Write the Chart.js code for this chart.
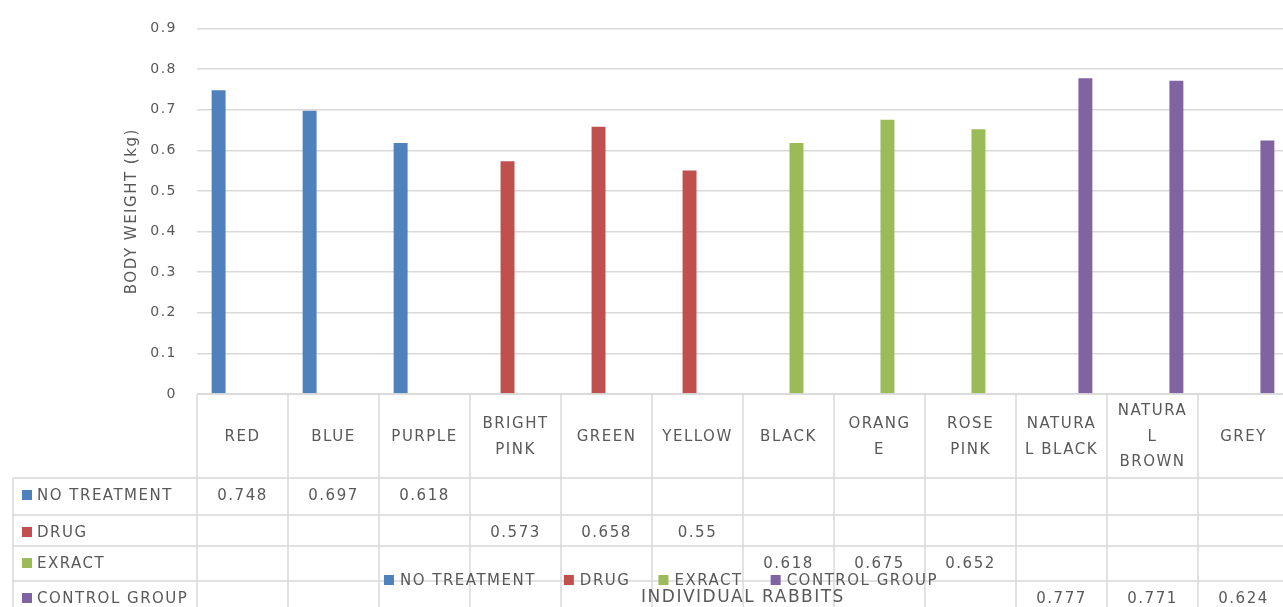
<!DOCTYPE html>
<html>
<head>
<meta charset="utf-8">
<script src="https://cdn.jsdelivr.net/npm/chart.js@4/dist/chart.umd.min.js"></script>
<style>
  body { margin: 0; background: #fff; }
  #wrap { width: 1283px; height: 607px; overflow: hidden; }
</style>
</head>
<body>
<div id="wrap"><canvas id="rabbits" width="1292" height="607"></canvas></div>
<script>
// rabbits, as the category cells wrap them
const rabbitLines = [
  ['RED'], ['BLUE'], ['PURPLE'], ['BRIGHT', 'PINK'], ['GREEN'], ['YELLOW'],
  ['BLACK'], ['ORANG', 'E'], ['ROSE', 'PINK'], ['NATURA', 'L BLACK'],
  ['NATURA', 'L', 'BROWN'], ['GREY'],
];
const groupNames = ['NO TREATMENT', 'DRUG', 'EXRACT', 'CONTROL GROUP'];
const groupColors = ['#4f81bd', '#c0504d', '#9bbb59', '#8064a2'];

const noTreatment = [0.748, 0.697, 0.618, null, null, null, null, null, null, null, null, null];
const drug = [null, null, null, 0.573, 0.658, 0.55, null, null, null, null, null, null];
const exract = [null, null, null, null, null, null, 0.618, 0.675, 0.652, null, null, null];
const controlGroup = [null, null, null, null, null, null, null, null, null, 0.777, 0.771, 0.624];

const yMin = 0;
const yMax = 0.9;
const yStep = 0.1;

const textGray = '#595959';
const lineGray = '#d9d9d9';
Chart.defaults.font.family = '"DejaVu Sans", sans-serif';
Chart.defaults.color = textGray;

// data table under the plot, drawn from the x scale's categories
const dataTable = {
  id: 'dataTable',
  beforeDraw(chart) {
    chart.ctx.letterSpacing = '1.5px';
  },
  afterDraw(chart) {
    const { ctx, chartArea: area } = chart;
    const n = chart.data.labels.length;
    const w = (area.right - area.left) / n;
    const bottom = chart.height;
    const rowTops = [478, 515, 546, 581];
    const rowH = 34;
    const tableLeft = 13;

    ctx.save();
    ctx.letterSpacing = '1.5px';
    ctx.strokeStyle = lineGray;
    ctx.lineWidth = 1.5;
    ctx.beginPath();
    ctx.moveTo(area.left, area.bottom);
    ctx.lineTo(area.right, area.bottom);
    for (let i = 0; i <= n; i++) {
      let x = area.left + i * w;
      ctx.moveTo(x, area.bottom);
      ctx.lineTo(x, bottom);
    }
    ctx.moveTo(tableLeft, rowTops[0]);
    ctx.lineTo(tableLeft, bottom);
    rowTops.forEach((y) => {
      ctx.moveTo(tableLeft, y);
      ctx.lineTo(area.right, y);
    });
    ctx.stroke();

    ctx.fillStyle = textGray;
    ctx.textAlign = 'center';
    ctx.textBaseline = 'middle';
    ctx.font = '15px "DejaVu Sans"';

    // category cells
    chart.data.labels.forEach((lines, i) => {
      let cx = chart.scales.x.getPixelForValue(i);
      let lh = 25.5;
      let y0 = 437 - ((lines.length - 1) * lh) / 2;
      lines.forEach((t, k) => ctx.fillText(t, cx, y0 + k * lh));
    });

    // series rows
    chart.data.datasets.forEach((ds, r) => {
      let cy = rowTops[r] + rowH / 2;
      ctx.fillStyle = ds.backgroundColor;
      ctx.fillRect(22, cy - 5, 10, 10);
      ctx.fillStyle = textGray;
      ctx.textAlign = 'left';
      ctx.fillText(ds.label, 37, cy + 1);
      ctx.textAlign = 'center';
      ds.data.forEach((v, i) => {
        if (v == null) return;
        ctx.fillText(String(v), chart.scales.x.getPixelForValue(i), cy + 1);
      });
    });

    // legend (sits over the table, like the source)
    let items = chart.data.datasets.map((ds) => ({
      label: ds.label,
      color: ds.backgroundColor,
      width: 16 + ctx.measureText(ds.label).width,
    }));
    let gap = 28;
    let total = items.reduce((s, it) => s + it.width, 0) + gap * (items.length - 1);
    let lx = 661 - total / 2;
    let ly = 580;
    ctx.textAlign = 'left';
    items.forEach((it) => {
      ctx.fillStyle = it.color;
      ctx.fillRect(lx, ly - 5, 10, 10);
      ctx.fillStyle = textGray;
      ctx.fillText(it.label, lx + 16, ly + 1);
      lx += it.width + gap;
    });

    // x axis title
    ctx.font = '17px "DejaVu Sans"';
    ctx.textAlign = 'center';
    ctx.fillText('INDIVIDUAL RABBITS', (area.left + area.right) / 2, 598);
    ctx.restore();
  },
};

const ctx = document.getElementById('rabbits');
new Chart(ctx, {
  type: 'bar',
  data: {
    labels: rabbitLines,
    datasets: [
      { label: groupNames[0], data: noTreatment, backgroundColor: groupColors[0] },
      { label: groupNames[1], data: drug, backgroundColor: groupColors[1] },
      { label: groupNames[2], data: exract, backgroundColor: groupColors[2] },
      { label: groupNames[3], data: controlGroup, backgroundColor: groupColors[3] },
    ],
  },
  options: {
    responsive: false,
    animation: false,
    categoryPercentage: 0.7,
    barPercentage: 0.875,
    layout: { padding: { left: 122, top: 22, right: 3, bottom: 213 } },
    plugins: {
      legend: { display: false },
      tooltip: { enabled: false },
    },
    scales: {
      x: { display: false },
      y: {
        min: yMin,
        max: yMax,
        ticks: { stepSize: yStep, padding: 20, font: { size: 14 }, color: textGray },
        grid: { color: lineGray, lineWidth: 1.5, drawTicks: false },
        border: { display: false },
        title: {
          display: true,
          text: 'BODY WEIGHT (kg)',
          font: { size: 15 },
          color: textGray,
          padding: { top: 1, bottom: 0 },
        },
        afterFit(scale) {
          scale.width = 75;
        },
      },
    },
  },
  plugins: [dataTable],
});
</script>
</body>
</html>
